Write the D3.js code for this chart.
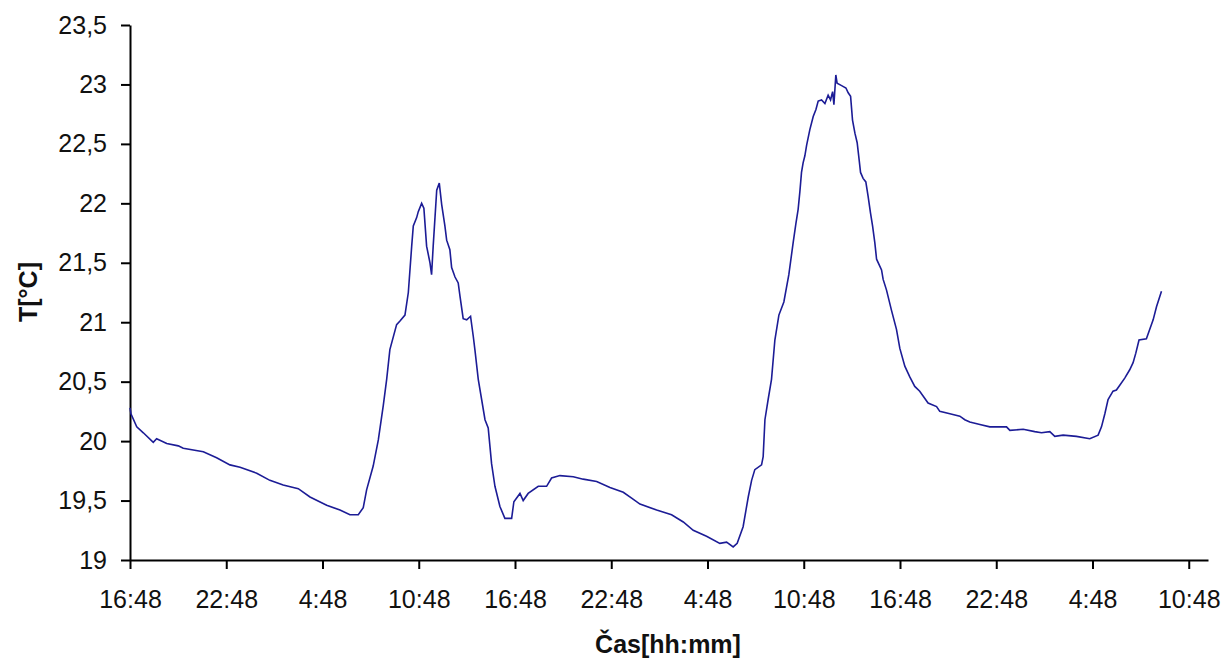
<!DOCTYPE html>
<html>
<head>
<meta charset="utf-8">
<script src="https://cdn.jsdelivr.net/npm/d3@7"></script>
<style>
	body { margin: 0; background: #fff; }
	text { font-family: Arial, 'Liberation Sans', sans-serif; fill: #111; }
	.axis path, .axis line { stroke: #000; stroke-width: 2; }
</style>
</head>
<body>
<div id="chart-area"></div>
<script>
// hours since 16:48 on day one
var hours = [0.00, 0.06, 0.42, 0.83, 1.45, 1.66, 2.29, 3.01, 3.32, 4.57, 5.40, 6.23, 6.86, 7.90, 8.72,
	9.55, 10.49, 11.22, 12.26, 13.09, 13.71, 14.23, 14.54, 14.75, 15.16, 15.48, 15.79, 16.00, 16.20,
	16.62, 16.83, 17.14, 17.35, 17.56, 17.66, 17.87, 17.97, 18.18, 18.32, 18.49, 18.70, 18.80, 18.90,
	19.12, 19.28, 19.43, 19.63, 19.74, 19.94, 20.05, 20.26, 20.46, 20.57, 20.77, 20.99, 21.23, 21.40,
	21.50, 21.71, 21.92, 22.13, 22.33, 22.54, 22.75, 23.06, 23.37, 23.79, 23.93, 24.31, 24.51, 24.82,
	25.45, 25.97, 26.28, 26.80, 27.63, 28.25, 29.09, 29.92, 30.75, 31.27, 31.79, 32.83, 33.76, 34.49,
	35.11, 35.94, 36.77, 37.19, 37.60, 37.85, 38.22, 38.54, 38.75, 38.95, 39.37, 39.47, 39.58, 39.78,
	39.99, 40.20, 40.45, 40.76, 41.07, 41.34, 41.51, 41.65, 41.76, 41.86, 41.96, 42.07, 42.18, 42.38,
	42.59, 42.76, 42.90, 43.11, 43.32, 43.52, 43.67, 43.80, 43.88, 44.00, 44.08, 44.36, 44.63, 44.77,
	44.92, 45.04, 45.19, 45.33, 45.45, 45.54, 45.70, 45.87, 46.01, 46.16, 46.29, 46.43, 46.54, 46.85,
	46.95, 47.16, 47.47, 47.78, 47.99, 48.30, 48.61, 48.92, 49.23, 49.75, 50.28, 50.48, 51.11, 51.73,
	52.04, 52.35, 52.98, 53.60, 54.64, 54.85, 55.68, 56.40, 56.82, 57.34, 57.65, 58.17, 59.00, 59.83,
	60.35, 60.56, 60.77, 60.97, 61.28, 61.49, 61.70, 62.01, 62.32, 62.53, 62.70, 62.90, 63.36, 63.57,
	63.78, 63.99, 64.30];

var temps = [20.28, 20.23, 20.12, 20.07, 19.99, 20.02, 19.98, 19.96, 19.94, 19.91, 19.86, 19.80, 19.78, 19.73, 19.67,
	19.63, 19.60, 19.53, 19.46, 19.42, 19.38, 19.38, 19.44, 19.59, 19.79, 20.01, 20.30, 20.52, 20.77,
	20.98, 21.01, 21.06, 21.25, 21.64, 21.81, 21.88, 21.93, 22.00, 21.96, 21.64, 21.50, 21.40, 21.64,
	22.11, 22.17, 21.99, 21.81, 21.69, 21.61, 21.46, 21.38, 21.33, 21.22, 21.03, 21.02, 21.05, 20.88,
	20.77, 20.52, 20.35, 20.18, 20.11, 19.81, 19.62, 19.45, 19.35, 19.35, 19.49, 19.56, 19.50, 19.56,
	19.62, 19.62, 19.69, 19.71, 19.70, 19.68, 19.66, 19.61, 19.57, 19.52, 19.47, 19.42, 19.38, 19.32,
	19.25, 19.20, 19.14, 19.15, 19.11, 19.14, 19.28, 19.53, 19.67, 19.76, 19.80, 19.87, 20.18, 20.35,
	20.52, 20.85, 21.06, 21.17, 21.40, 21.67, 21.83, 21.95, 22.10, 22.26, 22.34, 22.40, 22.49, 22.62,
	22.73, 22.79, 22.86, 22.87, 22.84, 22.91, 22.87, 22.94, 22.83, 23.08, 23.01, 22.99, 22.97, 22.93,
	22.90, 22.70, 22.59, 22.51, 22.37, 22.26, 22.21, 22.18, 22.06, 21.92, 21.81, 21.67, 21.53, 21.44,
	21.36, 21.27, 21.10, 20.94, 20.78, 20.63, 20.54, 20.46, 20.42, 20.32, 20.29, 20.25, 20.23, 20.21,
	20.18, 20.16, 20.14, 20.12, 20.12, 20.09, 20.10, 20.08, 20.07, 20.08, 20.04, 20.05, 20.04, 20.02,
	20.05, 20.12, 20.23, 20.35, 20.42, 20.43, 20.47, 20.53, 20.60, 20.66, 20.74, 20.85, 20.86, 20.94,
	21.02, 21.13, 21.26];

var xTickValues = [0, 6, 12, 18, 24, 30, 36, 42, 48, 54, 60, 66];
var xTickLabels = ['16:48', '22:48', '4:48', '10:48', '16:48', '22:48', '4:48', '10:48', '16:48', '22:48', '4:48', '10:48'];
var yTickValues = [19, 19.5, 20, 20.5, 21, 21.5, 22, 22.5, 23, 23.5];

var margin = { left: 130, right: 16, top: 25, bottom: 100 };
var width = 1224 - margin.left - margin.right;
var height = 660 - margin.top - margin.bottom;

var data = hours.map((h, i) => { return { h: h, t: temps[i] }; });

var svg = d3.select('#chart-area')
	.append('svg')
	.attr('width', 1224)
	.attr('height', 660);

var g = svg.append('g')
	.attr('transform', `translate(${margin.left}, ${margin.top})`);

var x = d3.scaleLinear()
	.domain([0, 67.2])
	.range([0, width]);
var y = d3.scaleLinear()
	.domain([19, 23.5])
	.range([height, 0]);

var comma = d3.formatLocale({ decimal: ',', thousands: ' ', grouping: [3], currency: ['', ''] }).format('~g');

var xAxisCall = d3.axisBottom(x)
	.tickValues(xTickValues)
	.tickSize(9)
	.tickSizeOuter(0)
	.tickFormat((d, i) => xTickLabels[i]);
var xAxis = g.append('g')
	.attr('class', 'x axis')
	.attr('transform', `translate(0, ${height})`)
	.call(xAxisCall);
xAxis.selectAll('text')
	.attr('font-size', '25px')
	.attr('dy', null)
	.attr('y', 48);

var yAxisCall = d3.axisLeft(y)
	.tickValues(yTickValues)
	.tickSize(9)
	.tickSizeOuter(0)
	.tickFormat(comma);
var yAxis = g.append('g')
	.attr('class', 'y axis')
	.call(yAxisCall);
yAxis.selectAll('text')
	.attr('font-size', '25px')
	.attr('x', -23);

g.selectAll('.axis text').attr('fill', '#111');
g.selectAll('.domain').attr('stroke-width', 2);

var line = d3.line()
	.x(d => x(d.h))
	.y(d => y(d.t));

g.append('path')
	.datum(data)
	.attr('fill', 'none')
	.attr('stroke', '#1c1c96')
	.attr('stroke-width', 1.6)
	.attr('stroke-linejoin', 'miter')
	.attr('d', line);

g.append('text')
	.attr('x', 668 - margin.left)
	.attr('y', 653 - margin.top)
	.attr('font-size', '25px')
	.attr('font-weight', 'bold')
	.attr('text-anchor', 'middle')
	.text('Čas[hh:mm]');

g.append('text')
	.attr('x', -(292 - margin.top))
	.attr('y', -margin.left + 37)
	.attr('transform', 'rotate(-90)')
	.attr('font-size', '25px')
	.attr('font-weight', 'bold')
	.attr('text-anchor', 'middle')
	.text('T[°C]');
</script>
</body>
</html>
